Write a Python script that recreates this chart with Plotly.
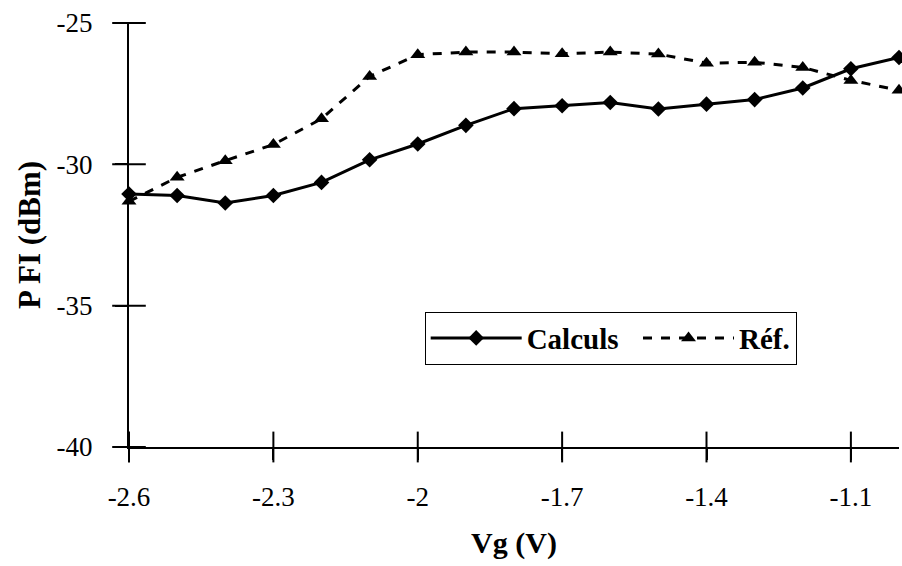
import plotly.graph_objects as go

vg = [-2.6, -2.5, -2.4, -2.3, -2.2, -2.1, -2.0, -1.9, -1.8, -1.7, -1.6, -1.5, -1.4, -1.3, -1.2, -1.1, -1.0]
calculs = [-31.05, -31.10, -31.37, -31.10, -30.64, -29.84, -29.28, -28.62, -28.03, -27.93, -27.81, -28.04, -27.87, -27.71, -27.30, -26.62, -26.22]
ref = [-31.31, -30.46, -29.87, -29.30, -28.39, -26.89, -26.12, -26.03, -26.03, -26.09, -26.03, -26.10, -26.42, -26.39, -26.57, -27.03, -27.38]
xticks = [-2.6, -2.3, -2.0, -1.7, -1.4, -1.1]
xticklabels = ["-2.6", "-2.3", "-2", "-1.7", "-1.4", "-1.1"]
yticks = [-40, -35, -30, -25]
yticklabels = ["-40", "-35", "-30", "-25"]

FONT = "Liberation Serif"
xr = [-2.6, -1.0]
yr = [-40, -25]

fig = go.Figure()
# cross-style tick marks (centred on the axis lines), built from the tick arrays
fig.add_trace(go.Scatter(x=xticks, y=[yr[0]] * len(xticks), mode="markers",
                         marker=dict(symbol="line-ns-open", size=22, color="black",
                                     line=dict(color="black", width=2)),
                         showlegend=False, hoverinfo="skip", cliponaxis=False))
fig.add_trace(go.Scatter(x=[xr[0]] * len(yticks), y=yticks, mode="markers",
                         marker=dict(symbol="line-ew-open", size=24, color="black",
                                     line=dict(color="black", width=2)),
                         showlegend=False, hoverinfo="skip", cliponaxis=False))
fig.add_trace(go.Scatter(x=vg, y=calculs, name="Calculs\u00a0\u00a0", mode="lines+markers",
                         line=dict(color="black", width=3),
                         marker=dict(symbol="diamond", size=12, color="black"),
                         cliponaxis=False))
fig.add_trace(go.Scatter(x=vg, y=ref, name="Réf.", mode="lines+markers",
                         line=dict(color="black", width=3, dash="9px,9px"),
                         marker=dict(symbol="triangle-up", size=13, color="black"),
                         cliponaxis=False))

fig.update_layout(
    width=902, height=566,
    margin=dict(l=129, r=3, t=23, b=119),
    paper_bgcolor="white", plot_bgcolor="white",
    font=dict(family=FONT, color="black", size=27),
    showlegend=True,
    legend=dict(orientation="h", x=0.384, y=0.257, xanchor="left", yanchor="middle",
                bordercolor="black", borderwidth=1, bgcolor="white",
                font=dict(family=FONT, size=29, color="black", weight="bold"),
                itemwidth=91, tracegroupgap=0),
    xaxis=dict(range=xr, tickvals=xticks, ticktext=xticklabels,
               showgrid=False, zeroline=False, showline=True, linecolor="black", linewidth=2,
               ticks="outside", ticklen=11, tickwidth=2, tickcolor="black",
               ticklabelstandoff=14,
               tickfont=dict(family=FONT, size=27),
               title=dict(text="<b>Vg (V)</b>", font=dict(family=FONT, size=30), standoff=21)),
    yaxis=dict(range=yr, tickvals=yticks, ticktext=yticklabels,
               showgrid=False, zeroline=False, showline=True, linecolor="black", linewidth=2,
               ticks="outside", ticklen=12, tickwidth=2, tickcolor="black",
               ticklabelstandoff=17,
               tickfont=dict(family=FONT, size=27)),
    annotations=[dict(text="<b>P FI (dBm)</b>", xref="paper", yref="paper", x=0, y=0.5,
                      xanchor="center", yanchor="middle", xshift=-100, yshift=0,
                      textangle=-90, showarrow=False,
                      font=dict(family=FONT, size=31, color="black"))],
)

fig.write_html("out.html", config={"displayModeBar": False},
               post_script="document.body.style.margin='0px';document.body.style.overflow='hidden';")
